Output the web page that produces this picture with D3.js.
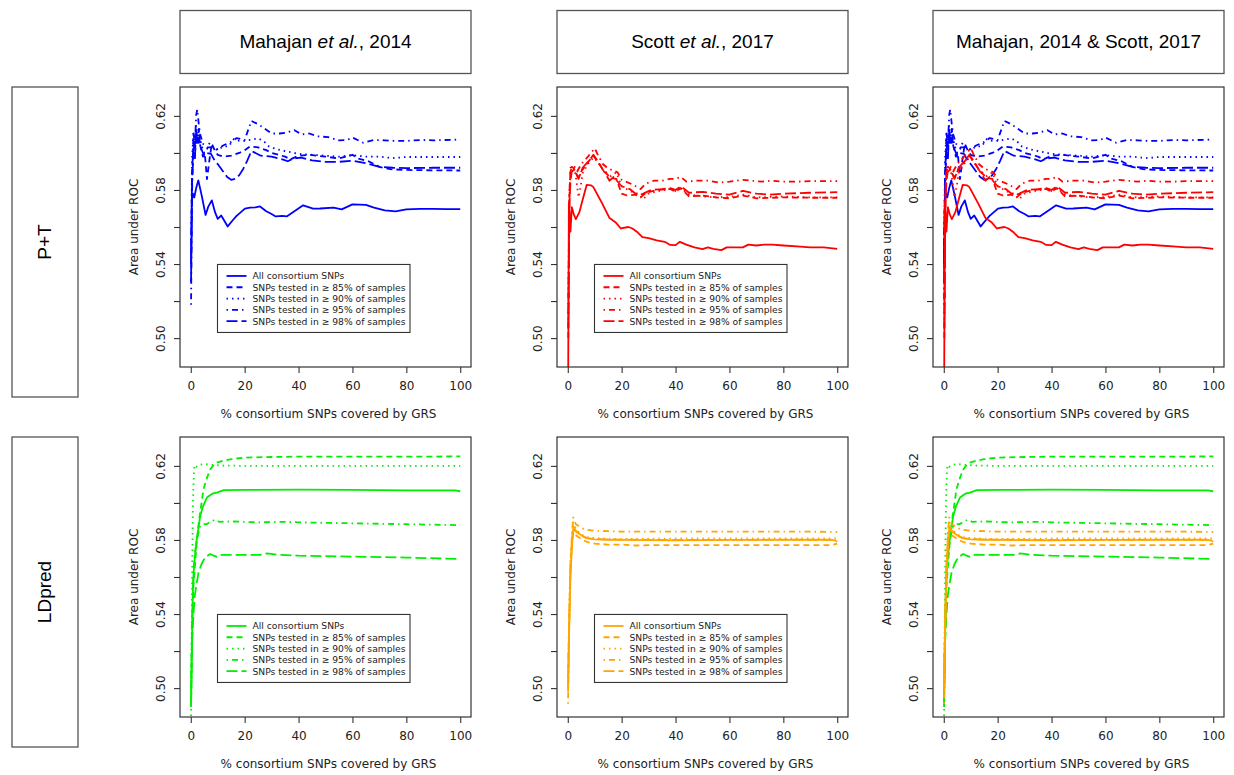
<!DOCTYPE html>
<html>
<head>
<meta charset="utf-8">
<script src="https://cdn.jsdelivr.net/npm/d3@7"></script>
<style>
  body { margin: 0; background: #fff; }
  svg { display: block; }
</style>
</head>
<body>
<svg id="chart" width="1234" height="775"></svg>
<script>
// ---- data: [% SNPs covered, AUC] ----
var mahPT_all = [[0.1,0.530],[0.4,0.574],[0.8,0.578],[1.3,0.576],[2,0.581],[2.8,0.5852],[4.1,0.5767],[5.5,0.5665],[6.5,0.571],[7.8,0.5744],[9,0.568],[10,0.5644],[11.3,0.5662],[13.7,0.5603],[15.5,0.5635],[17,0.566],[20.1,0.5699],[22,0.5705],[24,0.5706],[25.7,0.5711],[28,0.5685],[30,0.567],[31.5,0.5657],[34,0.566],[35.6,0.5657],[39,0.569],[41.7,0.5717],[45.4,0.5699],[48,0.570],[53,0.5705],[56,0.5695],[60,0.5722],[65,0.572],[68,0.5705],[72,0.569],[76,0.5684],[80,0.5695],[85,0.5698],[90,0.5698],[95,0.5697],[100,0.5697]];
var mahPT_85 = [[0.1,0.545],[0.5,0.590],[1,0.605],[1.5,0.598],[2,0.612],[2.5,0.606],[3,0.613],[3.5,0.604],[4.5,0.598],[5.2,0.600],[6,0.5858],[7,0.597],[7.8,0.605],[9,0.601],[10,0.599],[12,0.598],[15,0.5985],[18,0.600],[20,0.6015],[22,0.6035],[25,0.603],[28,0.6015],[30,0.600],[35,0.598],[37,0.5965],[40,0.5985],[44,0.599],[50,0.598],[55,0.597],[60,0.599],[62,0.597],[66,0.5955],[70,0.5925],[74,0.5912],[80,0.5908],[90,0.5906],[100,0.5905]];
var mahPT_90 = [[0.1,0.550],[0.5,0.598],[1,0.610],[1.5,0.605],[2,0.615],[2.5,0.608],[3,0.612],[4,0.604],[5,0.600],[6,0.602],[7,0.6055],[8,0.603],[10,0.6015],[12,0.6035],[14,0.6035],[16,0.6075],[18,0.6065],[20,0.6065],[22,0.607],[25,0.6078],[27,0.6065],[29,0.6035],[32,0.602],[35,0.601],[40,0.5995],[45,0.599],[50,0.5985],[55,0.598],[60,0.5988],[65,0.598],[70,0.598],[75,0.5972],[80,0.5978],[90,0.5978],[100,0.5978]];
var mahPT_95 = [[0.1,0.518],[0.5,0.580],[1,0.612],[1.5,0.603],[2,0.6205],[2.4,0.6235],[3,0.615],[3.5,0.610],[4.5,0.605],[6,0.603],[8,0.603],[10,0.602],[12,0.604],[15,0.606],[17,0.608],[20,0.607],[22.5,0.6173],[25,0.6155],[27,0.6135],[30,0.6105],[33,0.6105],[35,0.6108],[38.5,0.6123],[41,0.610],[44,0.6105],[47,0.609],[51,0.6085],[55,0.6068],[58,0.607],[60,0.6083],[64,0.6055],[68,0.607],[72,0.6068],[76,0.6065],[80,0.6065],[86,0.607],[90,0.6068],[100,0.6072]];
var mahPT_98 = [[0.1,0.540],[0.5,0.585],[1,0.600],[1.5,0.596],[2,0.612],[2.5,0.604],[3,0.608],[4,0.602],[5,0.598],[6,0.600],[7.5,0.5995],[9,0.5955],[10,0.594],[12,0.590],[13.5,0.587],[15,0.5855],[16.5,0.586],[18,0.588],[19.5,0.5915],[21,0.596],[22.5,0.601],[24,0.600],[26,0.5985],[30,0.598],[34,0.5965],[36,0.5955],[38,0.597],[41,0.5975],[45,0.596],[50,0.5952],[55,0.5952],[60,0.5958],[65,0.5945],[70,0.5925],[75,0.592],[80,0.5918],[90,0.592],[100,0.592]];

var scoPT_all = [[0.1,0.46],[0.4,0.5726],[0.7,0.566],[1,0.5575],[1.5,0.5707],[2.2,0.567],[3,0.5642],[4.3,0.568],[5.3,0.5735],[7,0.5827],[8.7,0.5825],[9.5,0.5815],[11,0.5775],[12.8,0.5726],[15.5,0.5648],[17.7,0.5626],[19.7,0.5592],[22.5,0.560],[24,0.5592],[26,0.557],[27.7,0.5545],[30,0.554],[33,0.5528],[36,0.552],[38,0.5503],[40,0.5502],[41.6,0.552],[44,0.5505],[47,0.549],[50,0.548],[52,0.549],[54,0.5482],[57,0.5475],[59,0.549],[62,0.549],[65,0.549],[67,0.5505],[70,0.550],[73,0.5505],[76,0.5505],[80,0.550],[85,0.5495],[90,0.549],[95,0.549],[100,0.5482]];
var scoPT_85 = [[0.2,0.50],[0.6,0.575],[1,0.592],[1.6,0.5925],[2.3,0.5915],[3,0.589],[3.8,0.587],[5,0.590],[6,0.592],[7.5,0.595],[9.5,0.5985],[11,0.5955],[13.5,0.590],[16,0.5865],[18,0.586],[20,0.578],[22,0.577],[25,0.5775],[27,0.576],[29,0.5785],[33,0.580],[38,0.5805],[40,0.579],[42,0.581],[45,0.5765],[50,0.577],[55,0.576],[60,0.5755],[65,0.577],[70,0.5755],[80,0.576],[90,0.5758],[100,0.5758]];
var scoPT_90 = [[0.2,0.52],[0.6,0.580],[1,0.588],[1.6,0.590],[2.5,0.5915],[3.2,0.585],[4,0.576],[4.8,0.582],[5.5,0.589],[7.5,0.594],[9.5,0.5975],[11,0.5955],[13,0.591],[16,0.5875],[18,0.5895],[20,0.582],[23,0.5795],[26,0.578],[28,0.575],[30,0.578],[34,0.5795],[38,0.5805],[40,0.5795],[42,0.581],[45,0.5775],[50,0.5765],[55,0.576],[60,0.5762],[65,0.5775],[70,0.576],[80,0.5765],[90,0.576],[100,0.576]];
var scoPT_95 = [[0.2,0.51],[0.6,0.578],[1,0.590],[1.6,0.5925],[2.5,0.5925],[3.5,0.590],[5,0.594],[7.5,0.598],[10,0.6025],[11,0.5995],[13,0.594],[15,0.5915],[17,0.5905],[18.5,0.5895],[20,0.5855],[24,0.583],[27,0.5805],[29,0.5835],[32,0.585],[35,0.585],[38,0.586],[40,0.586],[42,0.587],[44,0.5845],[48,0.585],[52,0.585],[56,0.584],[60,0.5845],[65,0.5855],[68,0.585],[72,0.5845],[76,0.585],[80,0.5845],[85,0.5845],[90,0.5848],[100,0.5848]];
var scoPT_98 = [[0.2,0.505],[0.6,0.572],[1,0.585],[1.5,0.590],[2.5,0.591],[4,0.586],[5.5,0.592],[8,0.596],[9.5,0.599],[11,0.596],[13,0.591],[15.5,0.585],[17,0.587],[20,0.582],[23,0.5805],[26,0.577],[28,0.578],[31,0.580],[35,0.5805],[38,0.581],[40,0.580],[42,0.582],[45,0.5785],[50,0.579],[55,0.578],[60,0.5775],[65,0.5795],[70,0.578],[75,0.5775],[80,0.578],[90,0.5785],[100,0.5788]];

var mahLD_all = [[0.1,0.4898],[0.5,0.530],[0.8,0.555],[1.2,0.566],[2,0.578],[3,0.588],[3.5,0.593],[4.5,0.598],[6,0.6029],[8,0.605],[9.7,0.6056],[12.2,0.6069],[20,0.607],[40,0.6072],[60,0.607],[80,0.6068],[98,0.6068],[100,0.6063]];
var mahLD_85 = [[0.1,0.50],[0.5,0.535],[1,0.555],[2,0.575],[3,0.590],[4,0.600],[4.7,0.6074],[6,0.6135],[7.2,0.618],[8.5,0.6205],[9.7,0.6218],[12,0.6228],[14.6,0.6235],[17,0.624],[20.8,0.6245],[30,0.6248],[40,0.625],[60,0.625],[80,0.625],[100,0.6251]];
var mahLD_90 = [[0.1,0.485],[0.5,0.560],[0.8,0.600],[1.2,0.6186],[1.5,0.6205],[2,0.6195],[3,0.6205],[5,0.621],[8,0.6205],[12,0.6202],[20,0.620],[40,0.620],[60,0.620],[80,0.620],[100,0.620]];
var mahLD_95 = [[0.1,0.495],[0.5,0.535],[1,0.560],[1.5,0.572],[2.2,0.580],[3.5,0.5877],[5,0.5885],[6,0.5886],[7.5,0.590],[9,0.5909],[10.5,0.5898],[15,0.590],[25,0.5895],[35,0.5898],[40,0.5895],[60,0.589],[80,0.5885],[100,0.588]];
var mahLD_98 = [[0.1,0.492],[0.5,0.525],[1,0.540],[1.5,0.550],[2,0.555],[2.9,0.5625],[4,0.567],[5.3,0.5706],[7.2,0.5724],[8.5,0.5715],[9.7,0.5709],[11,0.572],[20,0.572],[25.8,0.572],[28.3,0.5727],[32,0.572],[40,0.5715],[60,0.571],[80,0.5705],[100,0.5697]];

var scoLD_all = [[0.1,0.50],[0.5,0.530],[1,0.560],[1.5,0.575],[2,0.5858],[3,0.5845],[5,0.5825],[7,0.581],[10,0.5803],[15,0.580],[20,0.580],[40,0.5798],[60,0.580],[80,0.580],[97,0.5802],[99,0.5798],[100,0.579]];
var scoLD_85 = [[0.1,0.505],[0.5,0.535],[1,0.565],[1.5,0.578],[2,0.584],[3,0.5825],[5,0.5805],[7,0.579],[10,0.578],[15,0.5775],[20,0.5775],[25,0.577],[30,0.5772],[50,0.5772],[70,0.5772],[90,0.5772],[98,0.5772],[100,0.578]];
var scoLD_90 = [[0.1,0.50],[0.5,0.54],[1,0.570],[1.5,0.580],[2,0.5895],[3,0.586],[5,0.583],[7,0.5815],[10,0.581],[20,0.5805],[40,0.5808],[60,0.5808],[80,0.5808],[100,0.5808]];
var scoLD_95 = [[0.1,0.4916],[0.5,0.530],[1,0.565],[1.5,0.582],[2,0.5922],[3,0.5885],[5,0.5865],[7,0.5855],[10,0.585],[20,0.5845],[40,0.5845],[60,0.5845],[80,0.5845],[100,0.5844]];
var scoLD_98 = [[0.1,0.498],[0.5,0.535],[1,0.566],[1.5,0.578],[2,0.5875],[3,0.585],[5,0.5825],[7,0.581],[10,0.5805],[20,0.5802],[40,0.580],[60,0.580],[80,0.5802],[100,0.580]];

var columnTitles = [
  [["Mahajan ", false], ["et al.", true], [", 2014", false]],
  [["Scott ", false], ["et al.", true], [", 2017", false]],
  [["Mahajan, 2014 & Scott, 2017", false]]
];
var rowTitles = ["P+T", "LDpred"];
var legendLabels = ["All consortium SNPs", "SNPs tested in \u2265 85% of samples", "SNPs tested in \u2265 90% of samples",
                    "SNPs tested in \u2265 95% of samples", "SNPs tested in \u2265 98% of samples"];
var xTicks = [0, 20, 40, 60, 80, 100];
var yTicks = [0.50, 0.52, 0.54, 0.56, 0.58, 0.60, 0.62];
var yLabelled = [0.50, 0.54, 0.58, 0.62];
var xlim = [0, 100], ylim = [0.49, 0.63];

// ---- layout ----
var colLeft = [180, 557, 933], rowTop = [87, 437];
var pw = 291, ph = 280;
var dashes = [null, "6,4", "1.5,4", "1.5,4,6,4", "11,4"];
var sets = {
  mahPT: { color: "#0000ff", series: [mahPT_all, mahPT_85, mahPT_90, mahPT_95, mahPT_98] },
  scoPT: { color: "#ff0000", series: [scoPT_all, scoPT_85, scoPT_90, scoPT_95, scoPT_98] },
  mahLD: { color: "#00ee00", series: [mahLD_all, mahLD_85, mahLD_90, mahLD_95, mahLD_98] },
  scoLD: { color: "#ffa500", series: [scoLD_all, scoLD_85, scoLD_90, scoLD_95, scoLD_98] }
};
var panels = [
  [["mahPT"], ["scoPT"], ["mahPT", "scoPT"]],
  [["mahLD"], ["scoLD"], ["mahLD", "scoLD"]]
];

var svg = d3.select("#chart");
var axisFont = "'DejaVu Sans', sans-serif";

// R-style 4% axis extension
function ext(lim) { var d = (lim[1] - lim[0]) * 0.04; return [lim[0] - d, lim[1] + d]; }

// column headers
columnTitles.forEach(function(parts, c) {
  svg.append("rect").attr("x", colLeft[c]).attr("y", 10.5).attr("width", pw).attr("height", 63)
    .attr("fill", "none").attr("stroke", "#555").attr("stroke-width", 1.3);
  var t = svg.append("text").attr("x", colLeft[c] + pw / 2).attr("y", 48)
    .attr("text-anchor", "middle").style("font-family", "'Liberation Sans', Arial, sans-serif")
    .style("font-size", "19px");
  parts.forEach(function(p) {
    t.append("tspan").text(p[0]).style("font-style", p[1] ? "italic" : "normal");
  });
});

// row headers
rowTitles.forEach(function(name, r) {
  var top = rowTop[r], h = 310;
  svg.append("rect").attr("x", 12).attr("y", top).attr("width", 66).attr("height", h)
    .attr("fill", "none").attr("stroke", "#555").attr("stroke-width", 1.3);
  svg.append("text").attr("transform", "translate(" + 51 + "," + (top + h / 2) + ") rotate(-90)")
    .attr("text-anchor", "middle").style("font-family", "'Liberation Sans', Arial, sans-serif")
    .style("font-size", "19px").text(name);
});

var line = d3.line();

panels.forEach(function(row, r) {
  row.forEach(function(keys, c) {
    var x0 = colLeft[c], y0 = rowTop[r];
    var x = d3.scaleLinear().domain(ext(xlim)).range([x0, x0 + pw]);
    var y = d3.scaleLinear().domain(ext(ylim)).range([y0 + ph, y0]);
    var g = svg.append("g");
    var clipId = "clip" + r + c;
    svg.append("clipPath").attr("id", clipId).append("rect")
      .attr("x", x0).attr("y", y0).attr("width", pw).attr("height", ph);

    // series
    var lines = g.append("g").attr("clip-path", "url(#" + clipId + ")");
    keys.forEach(function(k) {
      var s = sets[k];
      s.series.forEach(function(pts, i) {
        lines.append("path")
          .attr("d", line.x(function(d) { return x(d[0]); }).y(function(d) { return y(d[1]); })(pts))
          .attr("fill", "none").attr("stroke", s.color).attr("stroke-width", 1.8)
          .attr("stroke-linejoin", "round")
          .attr("stroke-dasharray", dashes[i]);
      });
    });

    // box
    g.append("rect").attr("x", x0).attr("y", y0).attr("width", pw).attr("height", ph)
      .attr("fill", "none").attr("stroke", "#333").attr("stroke-width", 1.2);

    // x axis
    var xa = g.append("g").attr("transform", "translate(0," + (y0 + ph) + ")")
      .call(d3.axisBottom(x).tickValues(xTicks).tickSize(6).tickPadding(8).tickFormat(d3.format("d")));
    xa.select(".domain").remove();
    xa.selectAll("line").attr("stroke", "#333").attr("stroke-width", 1.1);
    xa.selectAll("text").style("font-family", axisFont).style("font-size", "12px").attr("fill", "#222");

    // y axis (labels parallel to axis, like R)
    var ya = g.append("g").attr("transform", "translate(" + x0 + ",0)")
      .call(d3.axisLeft(y).tickValues(yTicks).tickSize(6).tickFormat(function(d) {
        return yLabelled.some(function(v) { return Math.abs(v - d) < 1e-9; }) ? d3.format(".2f")(d) : "";
      }));
    ya.select(".domain").remove();
    ya.selectAll("line").attr("stroke", "#333").attr("stroke-width", 1.1);
    ya.selectAll("text").attr("x", null).attr("dy", null)
      .attr("transform", "translate(-15,0) rotate(-90)")
      .attr("text-anchor", "middle")
      .style("font-family", axisFont).style("font-size", "12px").attr("fill", "#222");

    g.append("text").attr("transform", "translate(" + (x0 - 42) + "," + (y0 + ph / 2) + ") rotate(-90)")
      .attr("text-anchor", "middle").style("font-family", axisFont).style("font-size", "12px")
      .attr("fill", "#222").text("Area under ROC");
    g.append("text").attr("x", x0 + pw / 2 + 3).attr("y", y0 + ph + 51)
      .attr("text-anchor", "middle").style("font-family", axisFont).style("font-size", "12px")
      .attr("fill", "#222").text("% consortium SNPs covered by GRS");

    // legend only in single-study panels
    if (keys.length === 1) {
      var s = sets[keys[0]];
      var lx = x0 + 37.5, ly = y(0.5395) - 0.5;
      var lg = g.append("g").attr("transform", "translate(" + lx + "," + ly + ")");
      lg.append("rect").attr("width", 192.5).attr("height", 68)
        .attr("fill", "#fff").attr("stroke", "#333").attr("stroke-width", 1.1);
      legendLabels.forEach(function(lab, i) {
        var yy = 11.5 + i * 11.3;
        lg.append("line").attr("x1", 9).attr("x2", 29).attr("y1", yy).attr("y2", yy)
          .attr("stroke", s.color).attr("stroke-width", 1.8).attr("stroke-dasharray", dashes[i]);
        lg.append("text").attr("x", 35).attr("y", yy + 3.5)
          .style("font-family", axisFont).style("font-size", "9.2px").attr("fill", "#222").text(lab);
      });
    }
  });
});
</script>
</body>
</html>
